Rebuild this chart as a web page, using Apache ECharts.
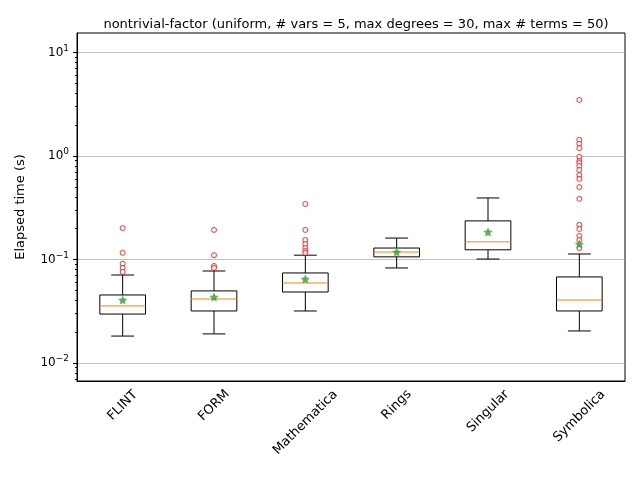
<!DOCTYPE html>
<html>
<head>
<meta charset="utf-8">
<script src="https://cdn.jsdelivr.net/npm/echarts@6/dist/echarts.min.js"></script>
<style>html,body{margin:0;padding:0;background:#fff}#chart{width:640px;height:480px}</style>
</head>
<body>
<div id="chart"></div>
<script>
// box stats in seconds: [whisker low, q1, median, q3, whisker high]
var categories = ['FLINT', 'FORM', 'Mathematica', 'Rings', 'Singular', 'Symbolica'];
var boxStats = [
    [0.0182, 0.0297, 0.0356, 0.0454, 0.0708],
    [0.0191, 0.0318, 0.0415, 0.0497, 0.0774],
    [0.0318, 0.0485, 0.0593, 0.0741, 0.110],
    [0.0828, 0.106, 0.118, 0.129, 0.161],
    [0.101, 0.124, 0.148, 0.236, 0.393],
    [0.0204, 0.0318, 0.0406, 0.0678, 0.113]
];
var means = [0.0406, 0.0434, 0.0648, 0.118, 0.184, 0.141];
var outliers = [
    [0.201, 0.116, 0.091, 0.0828, 0.0757],
    [0.193, 0.110, 0.0865, 0.0828],
    [0.344, 0.193, 0.154, 0.141, 0.129, 0.121, 0.116],
    [],
    [],
    [3.48, 1.43, 1.31, 1.19, 0.98, 0.895, 0.856, 0.80, 0.732, 0.655, 0.60, 0.50, 0.385, 0.216, 0.197, 0.169, 0.154, 0.129]
];
var decades = [-2, -1, 0, 1];
var minorTicks = [];
for (var d = -3; d <= 1; d++) {
    for (var k = 2; k <= 9; k++) minorTicks.push(d + Math.log10(k));
}

var lg = Math.log10;
var chart = echarts.init(document.getElementById('chart'));

var boxData = boxStats.map(function (b, i) {
    return [i].concat(b.map(lg));
});
var meanData = means.map(function (m, i) { return [i, lg(m)]; });
var outData = [];
outliers.forEach(function (arr, i) {
    arr.forEach(function (v) { outData.push([i, lg(v)]); });
});

// matplotlib centres the rotated label box under the tick; pad each label so it does the same
var font = '13px "DejaVu Sans"';
var ctx = document.createElement('canvas').getContext('2d');
ctx.font = font;
var rich = {};
categories.forEach(function (c, i) {
    var w = ctx.measureText(c).width;
    var p = Math.round(0.5 * (w + 13) + 4);
    rich['c' + i] = { fontSize: 13, color: '#000', fontFamily: 'DejaVu Sans', padding: [p, p, 0, 0] };
});

function renderBox(params, api) {
    var i = api.value(0);
    var band = api.size([1, 0])[0];
    var hw = band * 0.25, cw = band * 0.125;
    var p = [1, 2, 3, 4, 5].map(function (k) { return api.coord([i, api.value(k)]); });
    var x = p[0][0];
    var ls = { stroke: '#000', lineWidth: 1, fill: null };
    return {
        type: 'group',
        children: [
            { type: 'line', shape: { x1: x, y1: p[0][1], x2: x, y2: p[1][1] }, style: ls },
            { type: 'line', shape: { x1: x, y1: p[3][1], x2: x, y2: p[4][1] }, style: ls },
            { type: 'line', shape: { x1: x - cw, y1: p[0][1], x2: x + cw, y2: p[0][1] }, style: ls },
            { type: 'line', shape: { x1: x - cw, y1: p[4][1], x2: x + cw, y2: p[4][1] }, style: ls },
            { type: 'rect', shape: { x: x - hw, y: p[3][1], width: 2 * hw, height: p[1][1] - p[3][1] }, style: ls },
            { type: 'line', shape: { x1: x - hw, y1: p[2][1], x2: x + hw, y2: p[2][1] }, style: { stroke: '#ff7f0e', lineWidth: 1 } }
        ]
    };
}

var star = 'path://M0,-10 L2.94,-4.05 L9.51,-3.09 L4.76,1.55 L5.88,8.09 L0,5 L-5.88,8.09 L-4.76,1.55 L-9.51,-3.09 L-2.94,-4.05 Z';

chart.setOption({
    animation: false,
    title: {
        text: 'nontrivial-factor (uniform, # vars = 5, max degrees = 30, max # terms = 50)',
        left: 351, top: 13, textAlign: 'center',
        textStyle: { fontSize: 13, fontWeight: 'normal', color: '#000', fontFamily: 'DejaVu Sans' }
    },
    grid: { left: 77, right: 15, top: 33, bottom: 99 },
    xAxis: {
        type: 'category',
        data: categories,
        axisLine: { onZero: false, lineStyle: { color: '#000' } },
        axisTick: { alignWithLabel: true, lineStyle: { color: '#000' }, length: 4 },
        axisLabel: {
            rotate: 45, align: 'center', verticalAlign: 'middle', margin: 4,
            formatter: function (v, i) { return '{c' + i + '|' + v + '}'; },
            rich: rich
        }
    },
    yAxis: [{
        type: 'value',
        min: -2.174, max: 1.188,
        name: 'Elapsed time (s)',
        nameLocation: 'middle', nameGap: 50,
        nameTextStyle: { color: '#000', fontSize: 13, fontFamily: 'DejaVu Sans' },
        axisLine: { show: true, lineStyle: { color: '#000' } },
        axisTick: { show: true, customValues: decades, length: 4, lineStyle: { color: '#000' } },
        splitLine: { show: true, lineStyle: { color: '#b0b0b0', width: 0.8 } },
        axisLabel: {
            customValues: decades,
            formatter: function (v) {
                var n = Math.round(v);
                return '{b|10}{s|' + (n < 0 ? '\u2212' + (-n) : n) + '}';
            },
            rich: {
                b: { fontSize: 12, color: '#000', fontFamily: 'DejaVu Sans' },
                s: { fontSize: 9, color: '#000', fontFamily: 'DejaVu Sans', padding: [0, 0, 8, 0] }
            }
        }
    }, {
        type: 'value',
        position: 'left',
        min: -2.174, max: 1.188,
        axisLine: { show: false },
        axisTick: { show: true, customValues: minorTicks, length: 2, lineStyle: { color: '#000' } },
        axisLabel: { show: false },
        splitLine: { show: false }
    }],
    series: [
        { type: 'custom', renderItem: renderBox, data: boxData, encode: { x: 0, y: [1, 2, 3, 4, 5] }, z: 2 },
        {
            type: 'scatter', data: outData, symbol: 'circle', symbolSize: 5,
            itemStyle: { color: '#fff', borderColor: '#ff0000', borderWidth: 1 }, z: 3
        },
        {
            type: 'scatter', data: meanData, symbol: star, symbolSize: 9,
            itemStyle: { color: '#2ca02c' }, z: 4
        }
    ],
    graphic: [{ type: 'rect', shape: { x: 77, y: 33, width: 548, height: 348 }, style: { fill: null, stroke: '#000', lineWidth: 1 }, silent: true }]
});
</script>
</body>
</html>
